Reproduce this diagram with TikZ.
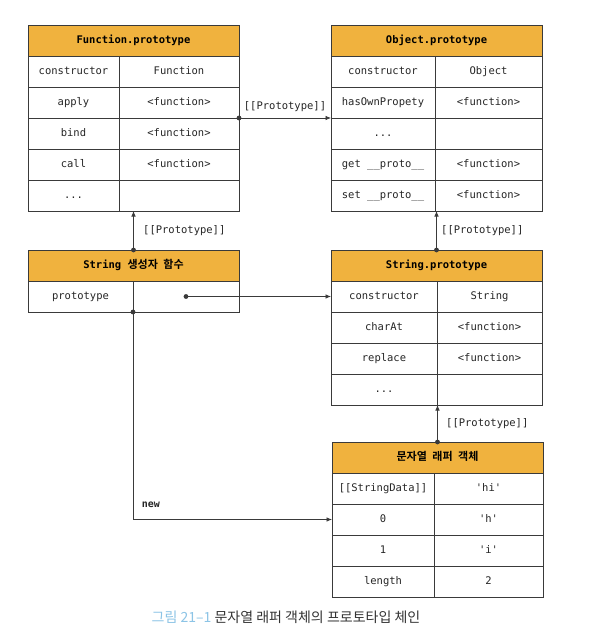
\documentclass[tikz,border=0pt]{standalone}
\usepackage{fontspec}
\usetikzlibrary{positioning, arrows.meta}

\newfontfamily\mono{DejaVu Sans Mono}
\newfontfamily\krfont{Noto Sans CJK KR}[BoldFont={Noto Sans CJK KR Bold}]

\definecolor{headorange}{HTML}{F0B23E}
\definecolor{linegray}{HTML}{3A3A3A}
\definecolor{capblue}{HTML}{8CC4E6}
\definecolor{capgray}{HTML}{333333}

\tikzset{
    head/.style={draw=linegray, line width=0.8pt, fill=headorange, minimum width=211pt, minimum height=31pt,
        inner sep=0pt, outer sep=0pt, text height=8pt, text depth=2.5pt, text=black,
        font=\mono\bfseries\fontsize{10.5}{12}\selectfont},
    cell/.style={draw=linegray, line width=0.8pt, minimum width=#1, minimum height=31pt,
        inner sep=0pt, outer sep=0pt, text height=7.5pt, text depth=2pt, text=black!85,
        font=\mono\fontsize{10.5}{12}\selectfont},
    link/.style={draw=linegray, line width=0.7pt, -{Latex[length=5.5pt, width=4.5pt]}},
    tag/.style={font=\mono\fontsize{10.5}{12}\selectfont, text height=8pt, text depth=2.5pt, text=black!85},
}
\newcommand{\dotat}[1]{\fill[linegray] (#1) circle (2.4pt);}
\newcommand{\krhead}[1]{{\krfont\bfseries\fontsize{11}{12}\selectfont\spaceskip=0.5em #1}}

\begin{document}
\begin{tikzpicture}[x=1pt, y=-1pt]
    \path[use as bounding box, fill=white] (0,0) rectangle (600,644);

    % Function.prototype
    \node[head]                                  (fnhead) at (133.5,40.5) {Function.prototype};
    \node[cell=91pt, anchor=north west]          (fn1k) at (fnhead.south west) {constructor};
    \node[cell=120pt, right=0pt of fn1k]         (fn1v) {Function};
    \node[cell=91pt, below=0pt of fn1k]          (fn2k) {apply};
    \node[cell=120pt, right=0pt of fn2k]         (fn2v) {<function>};
    \node[cell=91pt, below=0pt of fn2k]          (fn3k) {bind};
    \node[cell=120pt, right=0pt of fn3k]         (fn3v) {<function>};
    \node[cell=91pt, below=0pt of fn3k]          (fn4k) {call};
    \node[cell=120pt, right=0pt of fn4k]         (fn4v) {<function>};
    \node[cell=91pt, below=0pt of fn4k]          (fn5k) {...};
    \node[cell=120pt, right=0pt of fn5k]         (fn5v) {};

    % Object.prototype
    \node[head]                                  (obhead) at (436.5,40.5) {Object.prototype};
    \node[cell=104pt, anchor=north west]         (ob1k) at (obhead.south west) {constructor};
    \node[cell=107pt, right=0pt of ob1k]         (ob1v) {Object};
    \node[cell=104pt, below=0pt of ob1k]         (ob2k) {hasOwnPropety};
    \node[cell=107pt, right=0pt of ob2k]         (ob2v) {<function>};
    \node[cell=104pt, below=0pt of ob2k]         (ob3k) {...};
    \node[cell=107pt, right=0pt of ob3k]         (ob3v) {};
    \node[cell=104pt, below=0pt of ob3k]         (ob4k) {get \_\_proto\_\_};
    \node[cell=107pt, right=0pt of ob4k]         (ob4v) {<function>};
    \node[cell=104pt, below=0pt of ob4k]         (ob5k) {set \_\_proto\_\_};
    \node[cell=107pt, right=0pt of ob5k]         (ob5v) {<function>};

    % String constructor
    \node[head]                                  (schead) at (133.5,265.5) {String \krhead{생성자 함수}};
    \node[cell=105pt, anchor=north west]         (sc1k) at (schead.south west) {prototype};
    \node[cell=106pt, right=0pt of sc1k]         (sc1v) {};

    % String.prototype
    \node[head]                                  (sphead) at (436.5,265.5) {String.prototype};
    \node[cell=106pt, anchor=north west]         (sp1k) at (sphead.south west) {constructor};
    \node[cell=105pt, right=0pt of sp1k]         (sp1v) {String};
    \node[cell=106pt, below=0pt of sp1k]         (sp2k) {charAt};
    \node[cell=105pt, right=0pt of sp2k]         (sp2v) {<function>};
    \node[cell=106pt, below=0pt of sp2k]         (sp3k) {replace};
    \node[cell=105pt, right=0pt of sp3k]         (sp3v) {<function>};
    \node[cell=106pt, below=0pt of sp3k]         (sp4k) {...};
    \node[cell=105pt, right=0pt of sp4k]         (sp4v) {};

    % wrapper object
    \node[head]                                  (wrhead) at (437.5,457.5) {\krhead{문자열 래퍼 객체}};
    \node[cell=102pt, anchor=north west]         (wr1k) at (wrhead.south west) {[[StringData]]};
    \node[cell=109pt, right=0pt of wr1k]         (wr1v) {'hi'};
    \node[cell=102pt, below=0pt of wr1k]         (wr2k) {0};
    \node[cell=109pt, right=0pt of wr2k]         (wr2v) {'h'};
    \node[cell=102pt, below=0pt of wr2k]         (wr3k) {1};
    \node[cell=109pt, right=0pt of wr3k]         (wr3v) {'i'};
    \node[cell=102pt, below=0pt of wr3k]         (wr4k) {length};
    \node[cell=109pt, right=0pt of wr4k]         (wr4v) {2};

    % links
    \draw[link] (fn2v.south east) -- node[tag, above=2pt] {[[Prototype]]} (ob2k.south west);
    \draw[link] (schead.north) -- node[tag, right, xshift=6pt] {[[Prototype]]} (schead.north |- fn5k.south);
    \draw[link] (sphead.north) -- node[tag, right, xshift=1pt] {[[Prototype]]} (sphead.north |- ob5k.south);
    \draw[link] (wrhead.north) -- node[tag, right, xshift=5pt] {[[Prototype]]} (wrhead.north |- sp4k.south);
    \draw[link] (sc1v.center) -- (sp1k.west);
    \draw[link] (sc1k.south east) |- node[tag, pos=0.545, above=6pt, font=\mono\bfseries\fontsize{10}{12}\selectfont] {new} (wr2k.west);

    \dotat{fn2v.south east}
    \dotat{schead.north}
    \dotat{sphead.north}
    \dotat{wrhead.north}
    \dotat{sc1v.center}
    \dotat{sc1k.south east}

    % caption
    \node[font=\krfont\fontsize{14}{16}\selectfont] (caption) at (286,617)
        {\textcolor{capblue}{그림 21–1} \textcolor{capgray}{문자열 래퍼 객체의 프로토타입 체인}};
\end{tikzpicture}
\end{document}
